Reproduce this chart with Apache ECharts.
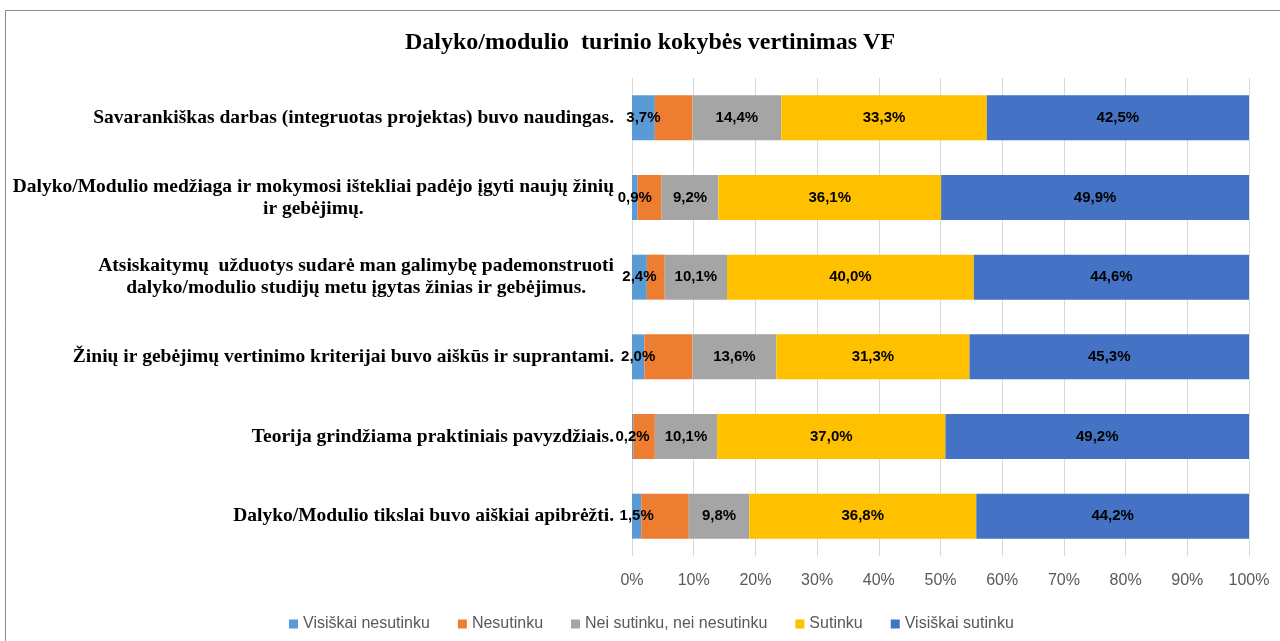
<!DOCTYPE html>
<html>
<head>
<meta charset="utf-8">
<script src="https://cdn.jsdelivr.net/npm/echarts@6/dist/echarts.min.js"></script>
<style>
  html, body { margin: 0; padding: 0; background: #fff; }
  #chart { width: 1280px; height: 641px; }
</style>
</head>
<body>
<div id="chart"></div>
<script>
// klausimai (iš viršaus į apačią)
var categories = [
  'Savarankiškas darbas (integruotas projektas) buvo naudingas.',
  'Dalyko/Modulio medžiaga ir mokymosi ištekliai padėjo įgyti naujų žinių\nir gebėjimų.',
  'Atsiskaitymų  užduotys sudarė man galimybę pademonstruoti\ndalyko/modulio studijų metu įgytas žinias ir gebėjimus.',
  'Žinių ir gebėjimų vertinimo kriterijai buvo aiškūs ir suprantami.',
  'Teorija grindžiama praktiniais pavyzdžiais.',
  'Dalyko/Modulio tikslai buvo aiškiai apibrėžti.'
];

var seriesNames = ['Visiškai nesutinku', 'Nesutinku', 'Nei sutinku, nei nesutinku', 'Sutinku', 'Visiškai sutinku'];
var seriesColors = ['#5b9bd5', '#ed7d31', '#a5a5a5', '#ffc000', '#4472c4'];

// procentai
var visiskaiNesutinku = [3.7, 0.9, 2.4, 2.0, 0.2, 1.5];
var nesutinku         = [6.1, 3.9, 2.9, 7.8, 3.5, 7.7];
var neiNei            = [14.4, 9.2, 10.1, 13.6, 10.1, 9.8];
var sutinku           = [33.3, 36.1, 40.0, 31.3, 37.0, 36.8];
var visiskaiSutinku   = [42.5, 49.9, 44.6, 45.3, 49.2, 44.2];

var seriesData = [visiskaiNesutinku, nesutinku, neiNei, sutinku, visiskaiSutinku];
var showLabel = [true, false, true, true, true];

var chart = echarts.init(document.getElementById('chart'));

var series = seriesNames.map(function (name, i) {
  return {
    name: name,
    type: 'bar',
    stack: 'total',
    barWidth: 45,
    itemStyle: { color: seriesColors[i] },
    label: {
      show: showLabel[i],
      position: 'inside',
      color: '#000',
      fontFamily: 'Liberation Sans, sans-serif',
      fontWeight: 'bold',
      fontSize: 15,
      formatter: function (p) {
        return p.value.toFixed(1).replace('.', ',') + '%';
      }
    },
    data: seriesData[i]
  };
});

var option = {
  backgroundColor: '#fff',
  animation: false,
  title: {
    text: 'Dalyko/modulio  turinio kokybės vertinimas VF',
    left: 400,
    top: 26,
    textStyle: {
      fontFamily: 'Liberation Serif, serif',
      fontWeight: 'bold',
      fontSize: 24,
      color: '#000'
    }
  },
  graphic: [{
    type: 'rect',
    shape: { x: 5.5, y: 10.5, width: 1300, height: 700 },
    style: { fill: 'none', stroke: '#8c8c8c', lineWidth: 1 },
    silent: true
  }],
  legend: {
    left: 284,
    top: 611,
    itemWidth: 9,
    itemHeight: 9,
    itemGap: 28,
    icon: 'rect',
    textStyle: {
      fontFamily: 'Liberation Sans, sans-serif',
      fontSize: 16,
      color: '#595959'
    },
    data: seriesNames
  },
  grid: {
    left: 632,
    right: 31,
    top: 78,
    bottom: 85,
    containLabel: false,
    outerBoundsMode: 'none'
  },
  xAxis: {
    type: 'value',
    min: 0,
    max: 100,
    interval: 10,
    axisLine: { show: false },
    axisTick: { show: false },
    splitLine: { lineStyle: { color: '#d9d9d9', width: 1 } },
    axisLabel: {
      formatter: '{value}%',
      margin: 17,
      color: '#595959',
      fontFamily: 'Liberation Sans, sans-serif',
      fontSize: 16
    }
  },
  yAxis: {
    type: 'category',
    inverse: true,
    data: categories,
    axisLine: { show: false },
    axisTick: { show: false },
    axisLabel: {
      margin: 18,
      formatter: function (v) {
        return v.split('\n').map(function (s) { return '{c|' + s + '}'; }).join('\n');
      },
      rich: {
        c: {
          align: 'center',
          fontFamily: 'Liberation Serif, serif',
          fontWeight: 'bold',
          fontSize: 19.5,
          lineHeight: 22,
          color: '#000'
        }
      }
    }
  },
  series: series
};

chart.setOption(option);
</script>
</body>
</html>
